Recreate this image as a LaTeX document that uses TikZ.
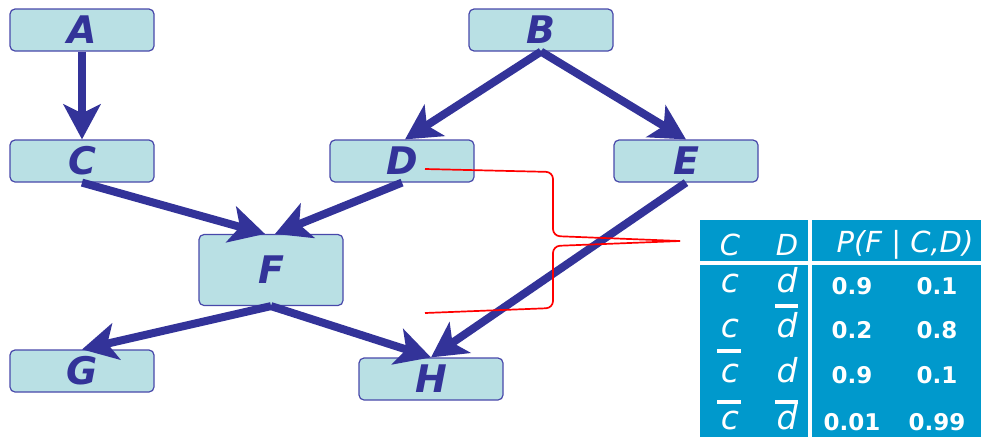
\documentclass[tikz,border=0pt]{standalone}
\usepackage{fontspec}
\setmainfont{DejaVu Sans}
\usetikzlibrary{arrows.meta}

\definecolor{netblue}{RGB}{51,51,153}
\definecolor{boxfill}{RGB}{185,224,228}
\definecolor{boxline}{RGB}{72,72,170}
\definecolor{cptblue}{RGB}{0,153,204}

\tikzset{
  var/.style={draw=boxline, fill=boxfill, rounded corners=5pt, line width=1.2pt,
    minimum width=144pt, minimum height=42pt, inner sep=0pt, text=netblue,
    font=\fontsize{38}{38}\selectfont\bfseries\itshape},
  edge/.style={draw=netblue, line width=8pt,
    -{Stealth[length=35pt,width=37pt,inset=9pt]}},
  cell/.style={text=white, inner sep=0pt},
  hd/.style={cell, font=\fontsize{29}{29}\selectfont\itshape},
  val/.style={cell, font=\fontsize{33}{33}\selectfont\itshape},
  num/.style={cell, font=\fontsize{23}{23}\selectfont\bfseries},
  bar/.style={draw=white, line width=4pt},
  wire/.style={draw=red, line width=1.7pt, rounded corners=7pt}
}

\begin{document}
\begin{tikzpicture}[x=1pt,y=-1pt]
          \useasboundingbox (0,0) rectangle (981,437);
          % variables
          \node[var] (A) at (82,30)  {A};
          \node[var] (B) at (541,30) {B};
          \node[var] (C) at (82,161) {C};
          \node[var] (D) at (402,161) {D};
          \node[var] (E) at (686,161) {E};
          \node[var, minimum height=71pt] (F) at (271,270) {F};
          \node[var] (G) at (82,371) {G};
          \node[var] (H) at (431,379) {H};
          % links
          \draw[edge] (A.south) -- (C.north);
          \draw[edge] (B.south) -- ([xshift=3pt]D.north);
          \draw[edge] (B.south) -- (E.north);
          \draw[edge] (C.south) -- ([xshift=-6pt]F.north);
          \draw[edge] (D.south) -- ([xshift=4pt]F.north);
          \draw[edge] (F.south) -- (G.north);
          \draw[edge] (F.south) -- (H.north);
          \draw[edge] (E.south) -- (H.north);
          % table of P(F | C,D)
          \fill[cptblue] (700,220) rectangle (981,437);
          \draw[bar] (810,220) -- (810,437);
          \draw[bar] (700,263) -- (981,263);
          \node[hd] (hC) at (730,245) {C};
          \node[hd] (hD) at (787,245) {D};
          \node[hd] (hP) at (905,245) {P(F | C,D)};
          \node[val] (c1) at (730,283) {c};   \node[val] (d1) at (787,280) {d};
          \node[val] (c2) at (730,328) {c};   \node[val] (d2) at (787,325) {d};
          \node[val] (c3) at (730,373) {c};   \node[val] (d3) at (787,370) {d};
          \node[val] (c4) at (730,420) {c};   \node[val] (d4) at (787,417) {d};
          \node[num] at (852,286) {0.9};   \node[num] at (937,286) {0.1};
          \node[num] at (852,330) {0.2};   \node[num] at (937,330) {0.8};
          \node[num] at (852,375) {0.9};   \node[num] at (937,375) {0.1};
          \node[num] at (852,422) {0.01};  \node[num] at (937,422) {0.99};
          % negations
          \draw[bar] (775,306) -- (798,306);
          \draw[bar] (717,351) -- (741,351);
          \draw[bar] (717,402) -- (741,402);
          \draw[bar] (775,402) -- (798,402);
          % parents feeding the table
          \coordinate (cpt) at (680,241);
          \coordinate (fromD) at (425,169);
          \coordinate (fromC) at (425,313);
          \draw[wire] (fromD) -- (553,172) -- (553,236) -- (cpt);
          \draw[wire] (fromC) -- (553,308) -- (553,246) -- (cpt);
        \end{tikzpicture}
\end{document}
